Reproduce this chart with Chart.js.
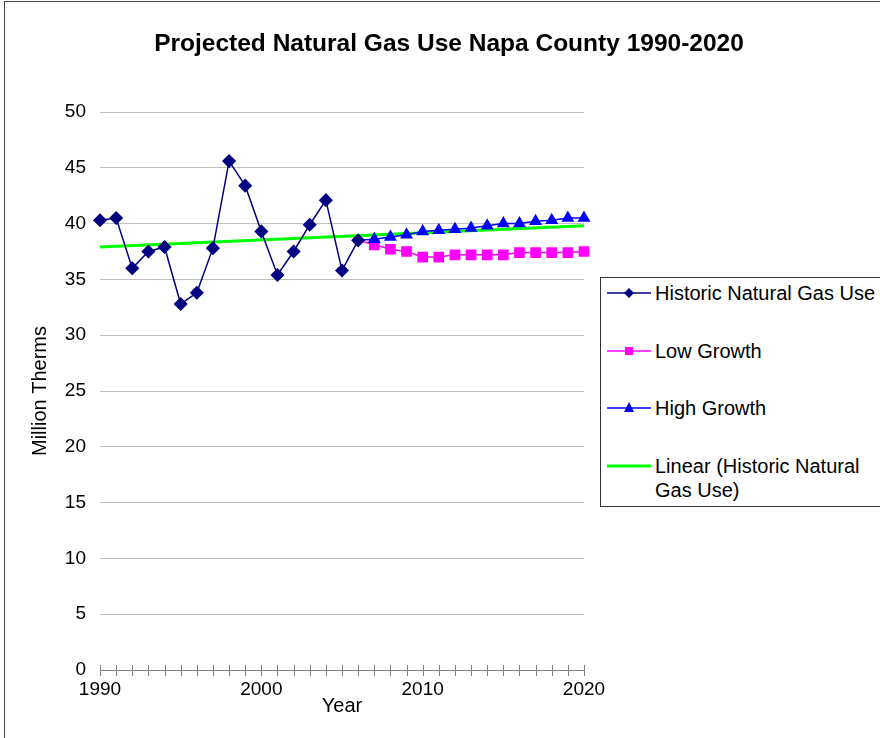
<!DOCTYPE html>
<html>
<head>
<meta charset="utf-8">
<script src="https://cdn.jsdelivr.net/npm/chart.js@4"></script>
<style>
  html, body { margin: 0; padding: 0; background: #fff; }
  body { width: 880px; height: 738px; position: relative; overflow: hidden; font-family: "Liberation Sans", Arial, sans-serif; }
  #frame { position: absolute; left: 4px; top: 1px; width: 900px; height: 800px; border-left: 1px solid #444; border-top: 1px solid #444; }
  #title { position: absolute; left: 0; width: 898px; top: 29px; text-align: center; font-weight: bold; font-size: 24.5px; color: #000; }
  canvas { position: absolute; left: 0; top: 0; }
  #legend { position: absolute; left: 600px; top: 277px; width: 300px; height: 228px; border: 1px solid #333; background: #fff; }
  .item { position: absolute; left: 0; display: flex; align-items: flex-start; font-size: 20px; line-height: 24px; color: #000; }
  .item svg { flex: none; margin: 0 4px 0 6px; }
</style>
</head>
<body>
<div id="frame"></div>
<canvas id="chart" width="880" height="738"></canvas>
<div id="title">Projected Natural Gas Use Napa County 1990-2020</div>
<div id="legend"></div>
<script>
// values (million therms)
const years = [
  "1990", "1991", "1992", "1993", "1994", "1995", "1996", "1997", "1998", "1999",
  "2000", "2001", "2002", "2003", "2004", "2005", "2006", "2007", "2008", "2009",
  "2010", "2011", "2012", "2013", "2014", "2015", "2016", "2017", "2018", "2019", "2020",
];
const historic = [40.3, 40.5, 36.0, 37.5, 37.9, 32.8, 33.8, 37.8, 45.6, 43.4,
  39.3, 35.4, 37.5, 39.9, 42.1, 35.8, 38.5];
// projections start from the last historic year (2006)
const lowGrowth = [38.5, 38.1, 37.7, 37.5, 37.0, 37.0, 37.2, 37.2, 37.2, 37.2,
  37.4, 37.4, 37.4, 37.4, 37.5];
const highGrowth = [38.5, 38.6, 38.8, 39.0, 39.3, 39.4, 39.5, 39.6, 39.8, 40.0,
  40.0, 40.2, 40.3, 40.5, 40.5];
const trendEnds = [37.9, 39.8];  // linear trend at 1990 and 2020
const yTicks = [0, 50, 5];

const pad = (arr, before) => Array(before).fill(null).concat(arr);
const projStart = years.indexOf("2006");
const trend = years.map((y, i) => i === 0 ? trendEnds[0] : i === years.length - 1 ? trendEnds[1] : null);

const hideFirst = (r) => (ctx) => (ctx.dataIndex === projStart ? 0 : r);

const FONT = "'Liberation Sans', Arial, sans-serif";

// tick marks that cross the x axis, Excel style
const crossTicks = {
  id: "crossTicks",
  afterDatasetsDraw(chart) {
    const sx = chart.scales.x;
    const y0 = chart.chartArea.bottom;
    const c = chart.ctx;
    c.save();
    c.strokeStyle = "#808080";
    c.lineWidth = 1;
    c.beginPath();
    c.moveTo(sx.left, y0 + 0.5);
    c.lineTo(sx.right, y0 + 0.5);
    for (let i = 0; i < years.length; i++) {
      const px = Math.round(sx.getPixelForTick(i)) + 0.5;
      c.moveTo(px, y0 - 5);
      c.lineTo(px, y0 + 6);
    }
    c.stroke();
    c.restore();
  },
};

const chart = new Chart(document.getElementById("chart"), {
  type: "line",
  data: {
    labels: years,
    datasets: [
      {
        label: "Linear (Historic Natural Gas Use)",
        data: trend,
        spanGaps: true,
        borderColor: "#00ff00",
        borderWidth: 3,
        pointRadius: 0,
        order: 4,
      },
      {
        label: "Low Growth",
        data: pad(lowGrowth, projStart),
        borderColor: "#ff00ff",
        backgroundColor: "#ff00ff",
        borderWidth: 1.5,
        pointStyle: "rect",
        pointRadius: hideFirst(6.5),
        order: 3,
      },
      {
        label: "High Growth",
        data: pad(highGrowth, projStart),
        borderColor: "#0000ff",
        backgroundColor: "#0000ff",
        borderWidth: 1.5,
        pointStyle: "triangle",
        pointRadius: hideFirst(6),
        order: 2,
      },
      {
        label: "Historic Natural Gas Use",
        data: historic,
        borderColor: "#000080",
        backgroundColor: "#000080",
        borderWidth: 1.5,
        pointStyle: "rectRot",
        pointRadius: 6,
        order: 1,
      },
    ],
  },
  options: {
    responsive: false,
    animation: false,
    devicePixelRatio: 1,
    layout: { padding: { left: 0, top: 112, right: 296, bottom: 0 } },
    plugins: { legend: { display: false }, tooltip: { enabled: false }, title: { display: false } },
    elements: { line: { tension: 0 } },
    scales: {
      x: {
        type: "category",
        offset: false,
        afterFit: (s) => { s.height = 68; },
        grid: { display: false, drawTicks: false },
        border: { display: false },
        ticks: {
          autoSkip: false,
          maxRotation: 0,
          padding: 8,
          color: "#000",
          font: { family: FONT, size: 19 },
          callback: (v, i) => (Number(years[i]) % 10 === 0 ? years[i] : ""),
        },
        title: { display: true, text: "Year", color: "#000", font: { family: FONT, size: 20 }, padding: { top: 0, bottom: 20 } },
      },
      y: {
        min: yTicks[0],
        max: yTicks[1],
        afterFit: (s) => { s.width = 100; },
        grid: { color: (ctx) => (ctx.tick.value === 0 ? "rgba(0,0,0,0)" : "#c0c0c0"), drawTicks: false },
        border: { display: false },
        ticks: { stepSize: yTicks[2], padding: 14, color: "#000", font: { family: FONT, size: 19 } },
        title: { display: true, text: "Million Therms", color: "#000", font: { family: FONT, size: 20 }, padding: { top: 28, bottom: 0 } },
      },
    },
  },
  plugins: [crossTicks],
});

// boxed legend on the right, built from the datasets
const legendRows = [
  { label: "Historic Natural Gas Use", top: 3 },
  { label: "Low Growth", top: 61 },
  { label: "High Growth", top: 118 },
  { label: "Linear (Historic Natural Gas Use)", top: 176, html: "Linear (Historic Natural<br>Gas Use)" },
];
const markers = {
  rectRot: (c) => `<polygon points="22,6 27,11 22,16 17,11" fill="${c}"/>`,
  rect: (c) => `<rect x="18" y="7" width="8" height="8" fill="${c}"/>`,
  triangle: (c) => `<polygon points="22,5 27,15 17,15" fill="${c}"/>`,
};
const legendEl = document.getElementById("legend");
legendEl.innerHTML = legendRows.map((row) => {
  const ds = chart.data.datasets.find((d) => d.label === row.label);
  const m = ds.pointStyle ? markers[ds.pointStyle](ds.borderColor) : "";
  const w = ds.borderWidth >= 3 ? 3 : 1.5;
  return `<div class="item" style="top:${row.top}px">
    <svg width="44" height="24" viewBox="0 0 44 24"><line x1="0" y1="12" x2="44" y2="12" stroke="${ds.borderColor}" stroke-width="${w}"/>${m.replace(/(\d+),(\d+)/g, (s, a, b) => a + "," + (Number(b) + 1)).replace('y="7"', 'y="8"')}</svg>
    <span>${row.html || row.label}</span></div>`;
}).join("");
</script>
</body>
</html>
